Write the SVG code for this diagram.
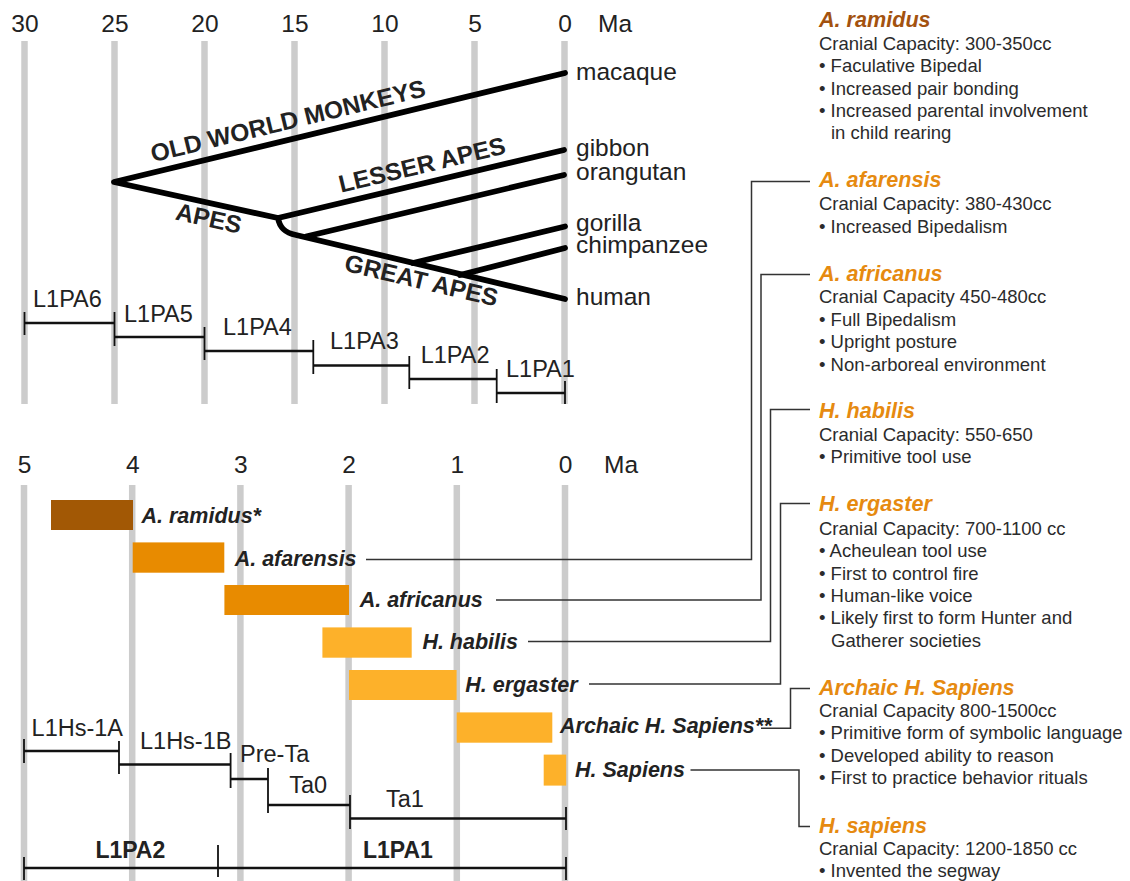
<svg xmlns="http://www.w3.org/2000/svg" width="1130" height="881" viewBox="0 0 1130 881">
<style>
.grid{stroke:#cccccc;stroke-width:6.5}
.tree{stroke:#000;stroke-width:5.8;fill:none;stroke-linecap:round;stroke-linejoin:round}
.bar{stroke:#111;stroke-width:2.6}
.tick{stroke:#111;stroke-width:1.8}
.conn{stroke:#333;stroke-width:1.5;fill:none}
text{font-family:"Liberation Sans",Arial,sans-serif}
.ax{font-size:24.5px;fill:#222;text-anchor:middle}
.ma{font-size:24.5px;fill:#222}
.lbl{font-size:23.5px;fill:#222}
.tl{font-size:24.5px;fill:#222}
.clade{font-size:24.5px;font-weight:bold;fill:#222;text-anchor:middle}
.sp{font-size:21.5px;font-weight:bold;font-style:italic;fill:#222}
.ttl{font-size:21.6px;font-weight:bold;font-style:italic;fill:#e68a10}
.ttl.br{fill:#a3520f}
.txt{font-size:18.5px;fill:#2b2b2b}
.bl{font-size:23px;font-weight:bold;fill:#222}
.brown{fill:#a25805}
.orange{fill:#e88b00}
.yellow{fill:#fdb12a}
</style>

<g id="grid-top">
<line class="grid" x1="24.5" y1="41" x2="24.5" y2="404"/>
<line class="grid" x1="114.5" y1="41" x2="114.5" y2="404"/>
<line class="grid" x1="204.5" y1="41" x2="204.5" y2="404"/>
<line class="grid" x1="294.5" y1="41" x2="294.5" y2="404"/>
<line class="grid" x1="384.5" y1="41" x2="384.5" y2="404"/>
<line class="grid" x1="474.5" y1="41" x2="474.5" y2="404"/>
<line class="grid" x1="564.5" y1="41" x2="564.5" y2="404"/>
</g>
<g id="axis-top">
<text class="ax" x="25" y="32">30</text>
<text class="ax" x="115" y="32">25</text>
<text class="ax" x="205" y="32">20</text>
<text class="ax" x="295" y="32">15</text>
<text class="ax" x="385" y="32">10</text>
<text class="ax" x="475" y="32">5</text>
<text class="ax" x="565" y="32">0</text>
<text class="ma" x="598" y="32">Ma</text>
</g>

<g id="grid-bottom">
<line class="grid" x1="24" y1="485" x2="24" y2="881"/>
<line class="grid" x1="132.2" y1="485" x2="132.2" y2="881"/>
<line class="grid" x1="240.4" y1="485" x2="240.4" y2="881"/>
<line class="grid" x1="348.6" y1="485" x2="348.6" y2="881"/>
<line class="grid" x1="456.8" y1="485" x2="456.8" y2="881"/>
<line class="grid" x1="565" y1="485" x2="565" y2="881"/>
</g>
<g id="axis-bottom">
<text class="ax" x="24.5" y="473">5</text>
<text class="ax" x="132.7" y="473">4</text>
<text class="ax" x="240.9" y="473">3</text>
<text class="ax" x="349.1" y="473">2</text>
<text class="ax" x="457.3" y="473">1</text>
<text class="ax" x="565.5" y="473">0</text>
<text class="ma" x="604" y="473">Ma</text>
</g>

<g id="tree">
<path class="tree" d="M565,73 L114,182 L278,218 C279.5,227 284,232.5 296,235 L565,299"/>
<path class="tree" d="M278,218 L564,150"/>
<path class="tree" d="M306,236.5 L564,175"/>
<path class="tree" d="M413,263 L565,226.5"/>
<path class="tree" d="M460,275 L565,248"/>
</g>
<g id="clade-labels">
<text class="clade" transform="translate(290,129) rotate(-13.6)">OLD WORLD MONKEYS</text>
<text class="clade" transform="translate(424,173) rotate(-13.4)">LESSER APES</text>
<text class="clade" transform="translate(207,226.5) rotate(12.4)">APES</text>
<text class="clade" transform="translate(419.5,288.6) rotate(13.3)">GREAT APES</text>
</g>
<g id="taxa">
<text class="tl" x="576" y="79.5">macaque</text>
<text class="tl" x="576" y="156">gibbon</text>
<text class="tl" x="576" y="179.5">orangutan</text>
<text class="tl" x="576" y="231">gorilla</text>
<text class="tl" x="576" y="253">chimpanzee</text>
<text class="tl" x="576" y="305">human</text>
</g>

<g id="l1pa-top">
<line class="bar" x1="24.5" y1="323" x2="114.5" y2="323"/>
<line class="bar" x1="114.5" y1="337" x2="204.5" y2="337"/>
<line class="bar" x1="204.5" y1="351" x2="313.3" y2="351"/>
<line class="bar" x1="313.3" y1="365.5" x2="409.3" y2="365.5"/>
<line class="bar" x1="409.3" y1="379" x2="496.7" y2="379"/>
<line class="bar" x1="496.7" y1="393" x2="565" y2="393"/>
<line class="tick" x1="24.5" y1="312" x2="24.5" y2="335"/>
<line class="tick" x1="114.5" y1="312" x2="114.5" y2="346"/>
<line class="tick" x1="204.5" y1="327" x2="204.5" y2="360"/>
<line class="tick" x1="313.3" y1="340" x2="313.3" y2="374"/>
<line class="tick" x1="409.3" y1="356" x2="409.3" y2="389"/>
<line class="tick" x1="496.7" y1="369" x2="496.7" y2="403"/>
<line class="tick" x1="565" y1="381" x2="565" y2="404"/>
<text class="lbl" x="33" y="307">L1PA6</text>
<text class="lbl" x="124" y="321.7">L1PA5</text>
<text class="lbl" x="223" y="335">L1PA4</text>
<text class="lbl" x="330" y="349">L1PA3</text>
<text class="lbl" x="420.7" y="363.3">L1PA2</text>
<text class="lbl" x="506" y="377.3">L1PA1</text>
</g>

<g id="species-bars">
<rect class="brown" x="51" y="500" width="82" height="30"/>
<rect class="orange" x="132.7" y="542.4" width="91.6" height="30.3"/>
<rect class="orange" x="224.4" y="585" width="124.6" height="30"/>
<rect class="yellow" x="322.4" y="627.4" width="89.3" height="30.3"/>
<rect class="yellow" x="349" y="670" width="107.6" height="30"/>
<rect class="yellow" x="456.7" y="712.4" width="95.6" height="30.3"/>
<rect class="yellow" x="543.7" y="754.6" width="22.5" height="31"/>
</g>
<g id="species-labels">
<text class="sp" x="141.5" y="523.4">A. ramidus*</text>
<text class="sp" x="234.7" y="566">A. afarensis</text>
<text class="sp" x="359.7" y="606.7">A. africanus</text>
<text class="sp" x="422.4" y="649.3">H. habilis</text>
<text class="sp" x="465.3" y="691.7">H. ergaster</text>
<text class="sp" x="560" y="733.3">Archaic H. Sapiens**</text>
<text class="sp" x="575" y="776.7">H. Sapiens</text>
</g>

<g id="l1hs-bottom">
<line class="bar" x1="24" y1="751" x2="119" y2="751"/>
<line class="bar" x1="119" y1="764.5" x2="230.6" y2="764.5"/>
<line class="bar" x1="230.6" y1="779" x2="268" y2="779"/>
<line class="bar" x1="268" y1="805" x2="350" y2="805"/>
<line class="bar" x1="350" y1="818.5" x2="566" y2="818.5"/>
<line class="tick" x1="24" y1="739" x2="24" y2="763"/>
<line class="tick" x1="119" y1="741" x2="119" y2="774"/>
<line class="tick" x1="230.6" y1="753" x2="230.6" y2="788"/>
<line class="tick" x1="268" y1="768" x2="268" y2="813"/>
<line class="tick" x1="350" y1="795" x2="350" y2="829"/>
<line class="tick" x1="566" y1="807" x2="566" y2="830"/>
<text class="lbl" x="31.6" y="736">L1Hs-1A</text>
<text class="lbl" x="140" y="749.3">L1Hs-1B</text>
<text class="lbl" x="240" y="761.7">Pre-Ta</text>
<text class="lbl" x="289.3" y="793.3">Ta0</text>
<text class="lbl" x="386" y="807.3">Ta1</text>
</g>
<g id="l1pa-bottom">
<line class="bar" x1="24" y1="868" x2="566" y2="868"/>
<line class="tick" x1="24" y1="857" x2="24" y2="880"/>
<line class="tick" x1="218" y1="845" x2="218" y2="877"/>
<line class="tick" x1="566" y1="857" x2="566" y2="880"/>
<text class="bl" x="95.4" y="858">L1PA2</text>
<text class="bl" x="363" y="858">L1PA1</text>
</g>

<g id="connectors">
<path class="conn" d="M366,559.5 H751.5 V181.5 H810"/>
<path class="conn" d="M496,600 H761 V274.5 H810"/>
<path class="conn" d="M528,641.5 H770.5 V409.5 H810"/>
<path class="conn" d="M589,684 H780.5 V503.5 H810"/>
<path class="conn" d="M761,728.3 H790.5 V688.5 H810"/>
<path class="conn" d="M690.5,770 H799 V826.5 H810"/>
</g>

<g id="info-ramidus">
<text class="ttl br" x="819" y="26.7">A. ramidus</text>
<text class="txt" x="819" y="49.8">Cranial Capacity: 300-350cc</text>
<text class="txt" x="819" y="72.2">• Faculative Bipedal</text>
<text class="txt" x="819" y="94.6">• Increased pair bonding</text>
<text class="txt" x="819" y="117">• Increased parental involvement</text>
<text class="txt" x="831" y="139.4">in child rearing</text>
</g>
<g id="info-afarensis">
<text class="ttl" x="819" y="187.3">A. afarensis</text>
<text class="txt" x="819" y="210.3">Cranial Capacity: 380-430cc</text>
<text class="txt" x="819" y="232.7">• Increased Bipedalism</text>
</g>
<g id="info-africanus">
<text class="ttl" x="819" y="280.7">A. africanus</text>
<text class="txt" x="819" y="303.3">Cranial Capacity 450-480cc</text>
<text class="txt" x="819" y="326">• Full Bipedalism</text>
<text class="txt" x="819" y="348.3">• Upright posture</text>
<text class="txt" x="819" y="370.7">• Non-arboreal environment</text>
</g>
<g id="info-habilis">
<text class="ttl" x="819" y="417.5">H. habilis</text>
<text class="txt" x="819" y="441">Cranial Capacity: 550-650</text>
<text class="txt" x="819" y="463.3">• Primitive tool use</text>
</g>
<g id="info-ergaster">
<text class="ttl" x="819" y="511">H. ergaster</text>
<text class="txt" x="819" y="535">Cranial Capacity: 700-1100 cc</text>
<text class="txt" x="819" y="557.3">• Acheulean tool use</text>
<text class="txt" x="819" y="580">• First to control fire</text>
<text class="txt" x="819" y="602.3">• Human-like voice</text>
<text class="txt" x="819" y="624.3">• Likely first to form Hunter and</text>
<text class="txt" x="831" y="646.7">Gatherer societies</text>
</g>
<g id="info-archaic">
<text class="ttl" x="819" y="695">Archaic H. Sapiens</text>
<text class="txt" x="819" y="716.7">Cranial Capacity 800-1500cc</text>
<text class="txt" x="819" y="739.3">• Primitive form of symbolic language</text>
<text class="txt" x="819" y="761.7">• Developed ability to reason</text>
<text class="txt" x="819" y="784">• First to practice behavior rituals</text>
</g>
<g id="info-sapiens">
<text class="ttl" x="819" y="833.3">H. sapiens</text>
<text class="txt" x="819" y="855">Cranial Capacity: 1200-1850 cc</text>
<text class="txt" x="819" y="876.7">• Invented the segway</text>
</g>
</svg>
